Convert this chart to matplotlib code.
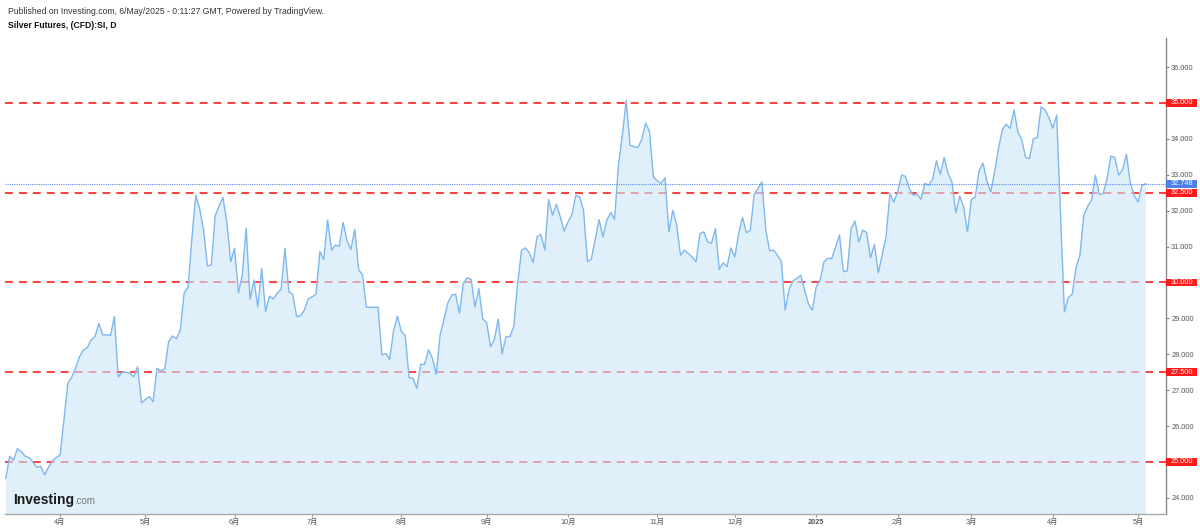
import numpy as np
import matplotlib
matplotlib.use("Agg")
import matplotlib.pyplot as plt
from matplotlib.patches import Rectangle
from matplotlib.transforms import blended_transform_factory

plt.rcParams['font.family'] = ['Liberation Sans', 'Noto Sans CJK SC', 'DejaVu Sans']

# ---------------- data ----------------
start_date = '2024-03-12'
holidays = ['2024-11-28', '2024-12-25', '2025-01-01', '2025-01-09', '2025-02-17']

prices = [
    24.54, 25.16, 25.05, 25.37, 25.29, 25.16, 25.12, 25.00, 24.85, 24.88,
    24.64, 24.85, 25.03, 25.12, 25.19, 26.17, 27.19, 27.36, 27.61, 27.93,
    28.12, 28.18, 28.40, 28.49, 28.86, 28.54, 28.54, 28.52, 29.05, 27.37,
    27.50, 27.50, 27.47, 27.37, 27.65, 26.65, 26.74, 26.82, 26.68, 27.61,
    27.54, 27.59, 28.35, 28.51, 28.43, 28.67, 29.71, 29.86, 31.23, 32.43,
    32.06, 31.46, 30.46, 30.49, 31.85, 32.13, 32.37, 31.69, 30.58, 30.95,
    29.71, 30.21, 31.51, 29.53, 30.07, 29.32, 30.39, 29.19, 29.62, 29.54,
    29.70, 29.81, 30.95, 29.74, 29.67, 29.05, 29.07, 29.23, 29.54, 29.60,
    29.67, 30.86, 30.64, 31.74, 30.90, 31.04, 31.01, 31.67, 31.16, 30.92,
    31.48, 30.36, 30.21, 29.31, 29.31, 29.31, 29.31, 27.98, 28.02, 27.86,
    28.66, 29.06, 28.63, 28.53, 27.35, 27.33, 27.05, 27.72, 27.72, 28.12,
    27.90, 27.44, 28.53, 28.97, 29.43, 29.65, 29.67, 29.14, 29.97, 30.13,
    30.09, 29.32, 29.83, 28.98, 28.89, 28.21, 28.41, 28.98, 28.01, 28.49,
    28.49, 28.78, 29.97, 30.90, 30.96, 30.83, 30.55, 31.27, 31.34, 30.90,
    32.31, 31.87, 32.18, 31.83, 31.43, 31.69, 31.89, 32.43, 32.38, 32.01,
    30.58, 30.65, 31.20, 31.75, 31.27, 31.73, 31.95, 31.76, 33.27, 34.10,
    35.07, 33.82, 33.78, 33.76, 33.98, 34.44, 34.21, 32.94, 32.83, 32.76,
    32.92, 31.41, 32.01, 31.62, 30.76, 30.90, 30.81, 30.71, 30.58, 31.36,
    31.41, 31.13, 31.09, 31.50, 30.36, 30.55, 30.44, 30.96, 30.71, 31.36,
    31.81, 31.38, 31.46, 32.45, 32.62, 32.80, 31.46, 30.88, 30.90, 30.76,
    30.58, 29.23, 29.81, 30.04, 30.11, 30.20, 29.79, 29.40, 29.23, 29.88,
    30.06, 30.58, 30.67, 30.67, 30.99, 31.32, 30.30, 30.32, 31.50, 31.71,
    31.13, 31.46, 31.39, 30.69, 31.06, 30.27, 30.76, 31.27, 32.48, 32.24,
    32.52, 32.99, 32.96, 32.62, 32.43, 32.46, 32.32, 32.76, 32.71, 32.87,
    33.39, 33.01, 33.48, 33.03, 32.80, 31.94, 32.41, 32.12, 31.41, 32.31,
    32.38, 33.11, 33.33, 32.83, 32.52, 33.08, 33.73, 34.26, 34.41, 34.29,
    34.81, 34.19, 33.98, 33.48, 33.45, 34.01, 34.03, 34.89, 34.81, 34.59,
    34.30, 34.66, 31.92, 29.18, 29.58, 29.67, 30.41, 30.76, 31.87, 32.12,
    32.29, 32.99, 32.45, 32.48, 32.89, 33.52, 33.48, 32.99, 33.14, 33.57,
    32.77, 32.43, 32.24, 32.71, 32.748,
]

levels = [25.0, 27.5, 30.0, 32.5, 35.0]
last_price = 32.748
yticks = [24, 25, 26, 27, 28, 29, 30, 31, 32, 33, 34, 35, 36]

header = "Published on Investing.com, 6/May/2025 - 0:11:27 GMT, Powered by TradingView."
title = "Silver Futures, (CFD):SI, D"

# ---------------- positions ----------------
n = len(prices)
dates = np.busday_offset(start_date, np.arange(n), roll='forward', holidays=holidays)
xs = np.arange(n)
months = dates.astype('datetime64[M]')
tick_idx = [i for i in range(1, n) if months[i] != months[i - 1]]
tick_lbl = []
for i in tick_idx:
    m = int(str(months[i])[5:7])
    y = str(months[i])[:4]
    tick_lbl.append(y if m == 1 else f"{m}月")

# ---------------- figure ----------------
W, H = 1200, 530
L, R, B, T = 5, 1166, 514, 38
fig = plt.figure(figsize=(12, 5.3), dpi=100)
ax = fig.add_axes([L / W, (H - B) / H, (R - L) / W, (B - T) / H])

ax.set_xlim(-0.2, n - 1 + 5.2)
ax.set_ylim(23.55, 36.81)

red = '#ff3030'
for lv in levels:
    ax.axhline(lv, color=red, lw=1.3, linestyle=(0, (4.4, 3.3)), zorder=1)

ax.fill_between(xs, prices, 0, color='#cce6f7', alpha=0.6, lw=0, zorder=2)
ax.plot(xs, prices, color='#7fb8ee', lw=1.0, zorder=3)
ax.axhline(last_price, color='#5b8def', lw=0.8, linestyle=(0, (1, 1)), zorder=3)

# spines
for s in ['left', 'top']:
    ax.spines[s].set_visible(False)
ax.spines['right'].set_color('#888888')
ax.spines['right'].set_linewidth(1.0)
ax.spines['bottom'].set_color('#aaaaaa')
ax.spines['bottom'].set_linewidth(1.0)

ax.yaxis.tick_right()
ax.set_yticks(yticks)
ylabels = ['' if float(t) in levels else f"{t:.3f}" for t in yticks]
ax.set_yticklabels(ylabels)
ax.tick_params(axis='y', length=2.2, width=0.8, color='#888888', labelsize=5.3,
               labelcolor='#555555', pad=1.5)
ax.set_xticks(tick_idx)
ax.set_xticklabels(tick_lbl)
ax.tick_params(axis='x', length=2.2, width=0.8, color='#999999', labelsize=5.3,
               labelcolor='#555555', pad=1.2)
for lbl, t in zip(ax.get_xticklabels(), tick_lbl):
    if t.isdigit():
        lbl.set_fontweight('bold')

# price badges on the right axis
trans = blended_transform_factory(ax.transAxes, ax.transData)
px_per_unit = (B - T) / (36.81 - 23.55)
badge_h = 7.6 / px_per_unit
badge_w = 31 / (R - L)
label_dx = 4.8 / (R - L)


def badge(val, fc, z):
    ax.add_patch(Rectangle((1.0, val - badge_h / 2), badge_w, badge_h,
                           transform=trans, fc=fc, ec='none', clip_on=False,
                           zorder=z))
    ax.text(1.0 + label_dx, val, f"{val:.3f}", transform=trans, ha='left',
            va='center', fontsize=5.3, color='white', clip_on=False,
            zorder=z + 0.5)


for lv in levels:
    badge(lv, '#ff1a1a', 10)
badge(last_price, '#4d7fe6', 12)

# header texts
fig.text(8 / W, 1 - 12 / H, header, fontsize=6.25, color='#333333',
         ha='left', va='center')
fig.text(8 / W, 1 - 26 / H, title, fontsize=6.25, color='#111111',
         ha='left', va='center', fontweight='bold')

# logo
lg = fig.text(13 / W, 1 - 500 / H, "Investing", fontsize=10,
              fontweight='bold', color='#1a1a1a', ha='left', va='center')
fig.canvas.draw()
bb = lg.get_window_extent()
fig.text(bb.x1 / W, 1 - 501 / H, ".com", fontsize=7, color='#777777',
         ha='left', va='center')

fig.savefig('out.png', dpi=100)
